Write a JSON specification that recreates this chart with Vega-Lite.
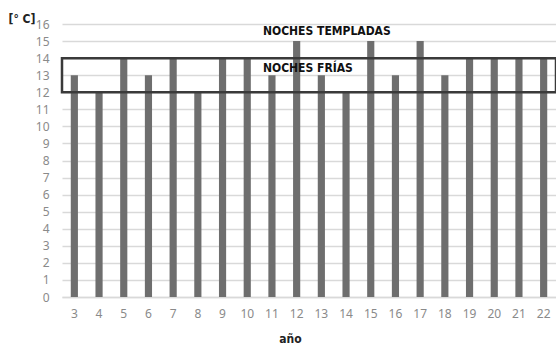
{
  "$schema": "https://vega.github.io/schema/vega-lite/v6.json",
  "width": 494,
  "height": 273,
  "autosize": "none",
  "padding": {"left": 62, "top": 24, "right": 0, "bottom": 48},
  "background": "white",
  "config": {
    "view": {"stroke": null},
    "axisY": {
      "tickCount": 16, "labelOverlap": false,
      "titleAngle": 0, "titleFont": "DejaVu Sans Condensed, Roboto",
      "titleFontWeight": "bold", "titleFontSize": 12, "titleColor": "#222",
      "titleX": -54, "titleY": -2, "titleAlign": "left", "titleBaseline": "alphabetic",
      "labelFont": "Noto Sans", "labelFontSize": 12, "labelColor": "#8a8a8a",
      "labelPadding": 13, "ticks": false, "domain": false,
      "gridColor": "#d9d9d9", "gridWidth": 1.5
    },
    "axisX": {
      "titleFont": "DejaVu Sans Condensed, Roboto", "titleFontWeight": "bold",
      "titleFontSize": 12, "titleColor": "#222", "titleX": 228, "titleY": 41,
      "titleBaseline": "middle",
      "labelAngle": 0, "labelFont": "Noto Sans", "labelFontSize": 12, "labelColor": "#8a8a8a",
      "labelPadding": 11, "ticks": false, "domainColor": "#d9d9d9", "domainWidth": 1.5
    }
  },
  "datasets": {
    "bars": [
      {"anio": "3", "temp": 13}, {"anio": "4", "temp": 12}, {"anio": "5", "temp": 14},
      {"anio": "6", "temp": 13}, {"anio": "7", "temp": 14}, {"anio": "8", "temp": 12},
      {"anio": "9", "temp": 14}, {"anio": "10", "temp": 14}, {"anio": "11", "temp": 13},
      {"anio": "12", "temp": 15}, {"anio": "13", "temp": 13}, {"anio": "14", "temp": 12},
      {"anio": "15", "temp": 15}, {"anio": "16", "temp": 13}, {"anio": "17", "temp": 15},
      {"anio": "18", "temp": 13}, {"anio": "19", "temp": 14}, {"anio": "20", "temp": 14},
      {"anio": "21", "temp": 14}, {"anio": "22", "temp": 14}
    ],
    "band": [{"lo": 12, "hi": 14}],
    "labels": [
      {"anio": "11", "y": 15.6, "label": "NOCHES TEMPLADAS"},
      {"anio": "11", "y": 13.4, "label": "NOCHES FRÍAS"}
    ]
  },
  "layer": [
    {
      "data": {"name": "bars"},
      "mark": {"type": "bar", "color": "#6e6e6e"},
      "encoding": {
        "x": {
          "field": "anio", "type": "ordinal", "sort": null, "title": "año",
          "scale": {"paddingInner": 0.71, "paddingOuter": 0.355}
        },
        "y": {
          "field": "temp", "type": "quantitative", "title": "[° C]",
          "scale": {"domain": [0, 16], "nice": false}
        }
      }
    },
    {
      "data": {"name": "band"},
      "mark": {"type": "rect", "fill": null, "fillOpacity": 0, "stroke": "#3a3a3a", "strokeWidth": 2.5},
      "encoding": {
        "y": {"field": "lo", "type": "quantitative", "title": "[° C]"},
        "y2": {"field": "hi"}
      }
    },
    {
      "data": {"name": "labels"},
      "mark": {"type": "text", "align": "left", "baseline": "middle", "dx": -9,
               "font": "DejaVu Sans Condensed, Roboto", "fontWeight": "bold", "fontSize": 12, "color": "#111"},
      "encoding": {
        "x": {"field": "anio", "type": "ordinal", "sort": null, "title": "año"},
        "y": {"field": "y", "type": "quantitative", "title": "[° C]"},
        "text": {"field": "label"}
      }
    }
  ]
}
